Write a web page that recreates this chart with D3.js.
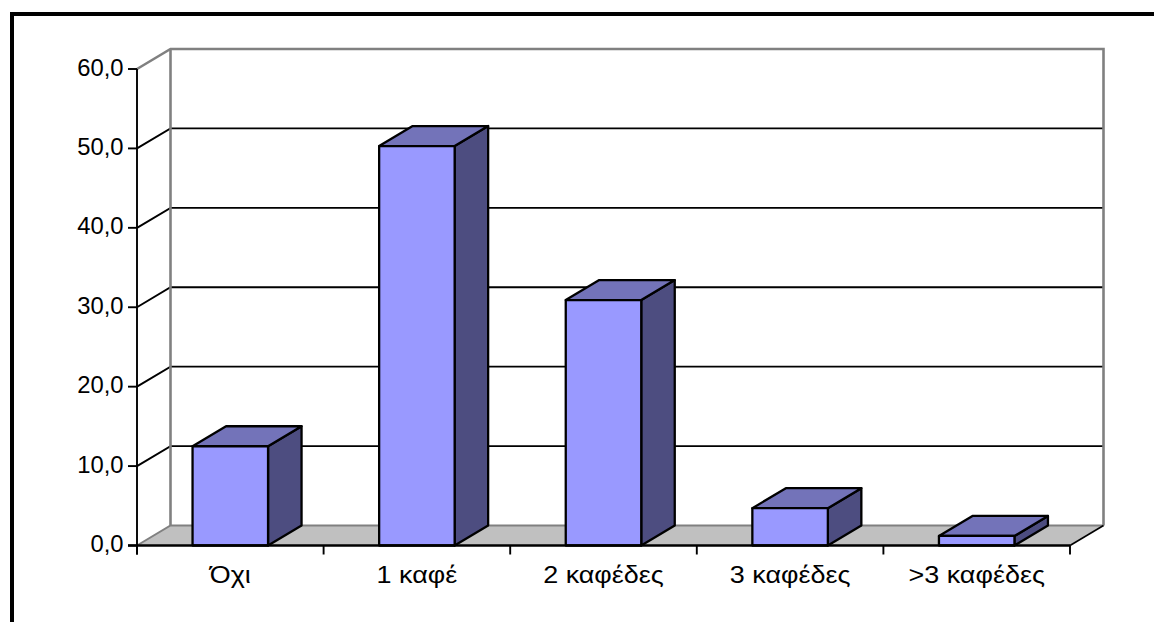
<!DOCTYPE html>
<html lang="el">
<head>
<meta charset="utf-8">
<script src="https://cdn.jsdelivr.net/npm/d3@7/dist/d3.min.js"></script>
<style>
html,body{margin:0;padding:0;background:#fff}
svg{display:block}
text{font-family:"Liberation Sans",Arial,sans-serif;fill:#000}
</style>
</head>
<body>
<svg id="chart" width="1154" height="622"></svg>
<script>
const categories = ["Όχι", "1 καφέ", "2 καφέδες", "3 καφέδες", ">3 καφέδες"];
const values = [12.5, 50.3, 30.9, 4.7, 1.2];
const yTicks = [0, 10, 20, 30, 40, 50, 60];

const svg = d3.select("#chart");
const W = 1154, H = 622;

// Oblique projection: front plane plus a constant depth offset
const depth = {x: 33.5, y: -20};
const x = d3.scaleBand().domain(categories).range([137, 1070]).paddingInner(0).paddingOuter(0);
const y = d3.scaleLinear().domain([0, 60]).range([545.5, 69]);
const barWidth = 75.5;
const back = p => [p[0] + depth.x, p[1] + depth.y];
const line = d3.line();
const closed = pts => line(pts) + "Z";

const x0 = x.range()[0], x1 = x.range()[1];
const yBase = y(0), yTop = y(60);

// Page frame: heavy rule on the top and left only
svg.append("rect").attr("x", 10).attr("y", 12).attr("width", W - 10).attr("height", 4).attr("fill", "#000");
svg.append("rect").attr("x", 10).attr("y", 12).attr("width", 4).attr("height", H - 12).attr("fill", "#000");

// Floor of the chart box
svg.append("path")
  .attr("d", closed([[x0, yBase], [x1, yBase], back([x1, yBase]), back([x0, yBase])]))
  .attr("fill", "#c0c0c0");

// Gridlines along the back wall and their returns on the side wall
const grid = svg.append("g");
yTicks.filter(t => t > 0 && t < 60).forEach(t => {
  const py = y(t);
  grid.append("path")
    .attr("d", line([[x0, py], back([x0, py]), back([x1, py])]))
    .attr("fill", "none").attr("stroke", "#000").attr("stroke-width", 1.9);
});

// Grey outline of the walls
svg.append("path")
  .attr("d", line([[x0, yTop], back([x0, yTop]), back([x1, yTop]), back([x1, yBase])]))
  .attr("fill", "none").attr("stroke", "#808080").attr("stroke-width", 2.6);
svg.append("path")
  .attr("d", line([[x0, yBase], back([x0, yBase]), back([x1, yBase])]))
  .attr("fill", "none").attr("stroke", "#808080").attr("stroke-width", 2);
svg.append("path")
  .attr("d", line([back([x0, yBase]), back([x0, yTop])]))
  .attr("fill", "none").attr("stroke", "#808080").attr("stroke-width", 2.6);
svg.append("path")
  .attr("d", line([[x1, yBase], back([x1, yBase])]))
  .attr("fill", "none").attr("stroke", "#000").attr("stroke-width", 1.6);

// Bars: front, top and side faces
const bars = svg.append("g").selectAll("g")
  .data(categories.map((c, i) => ({c, v: values[i]})))
  .join("g")
  .attr("stroke", "#000").attr("stroke-width", 2.3).attr("stroke-linejoin", "round");

const corners = d => {
  const l = x(d.c) + (x.bandwidth() - barWidth) / 2, r = l + barWidth;
  return {l, r, t: y(d.v), b: yBase};
};
bars.append("path").attr("fill", "#4d4d80").attr("d", d => {
  const k = corners(d);
  return closed([[k.r, k.t], back([k.r, k.t]), back([k.r, k.b]), [k.r, k.b]]);
});
bars.append("path").attr("fill", "#7373b9").attr("d", d => {
  const k = corners(d);
  return closed([[k.l, k.t], back([k.l, k.t]), back([k.r, k.t]), [k.r, k.t]]);
});
bars.append("path").attr("fill", "#9999ff").attr("d", d => {
  const k = corners(d);
  return closed([[k.l, k.t], [k.r, k.t], [k.r, k.b], [k.l, k.b]]);
});

// Value axis
const yAxis = svg.append("g");
yAxis.append("line").attr("x1", x0).attr("x2", x0).attr("y1", yTop).attr("y2", yBase + 9)
  .attr("stroke", "#000").attr("stroke-width", 1.9);
yAxis.selectAll("line.tick").data(yTicks).join("line").attr("class", "tick")
  .attr("x1", x0 - 9).attr("x2", x0).attr("y1", d => y(d)).attr("y2", d => y(d))
  .attr("stroke", "#000").attr("stroke-width", 1.9);
yAxis.selectAll("text").data(yTicks).join("text")
  .attr("x", x0 - 13.5).attr("y", d => y(d)).attr("dy", "0.28em")
  .attr("text-anchor", "end").attr("font-size", 23.8)
  .text(d => d3.format(".1f")(d).replace(".", ","));

// Category axis, set slightly wide
const xAxis = svg.append("g");
xAxis.append("line").attr("x1", x0 - 9).attr("x2", x1).attr("y1", yBase).attr("y2", yBase)
  .attr("stroke", "#000").attr("stroke-width", 2.3);
const tickEdges = categories.map(c => x(c)).concat(x1);
xAxis.selectAll("line.tick").data(tickEdges).join("line").attr("class", "tick")
  .attr("x1", d => d).attr("x2", d => d).attr("y1", yBase).attr("y2", yBase + 9)
  .attr("stroke", "#000").attr("stroke-width", 1.9);
xAxis.selectAll("text").data(categories).join("text")
  .attr("transform", d => `translate(${x(d) + x.bandwidth() / 2},583) scale(1.1,1)`)
  .attr("text-anchor", "middle").attr("font-size", 24.5)
  .text(d => d);
</script>
</body>
</html>
